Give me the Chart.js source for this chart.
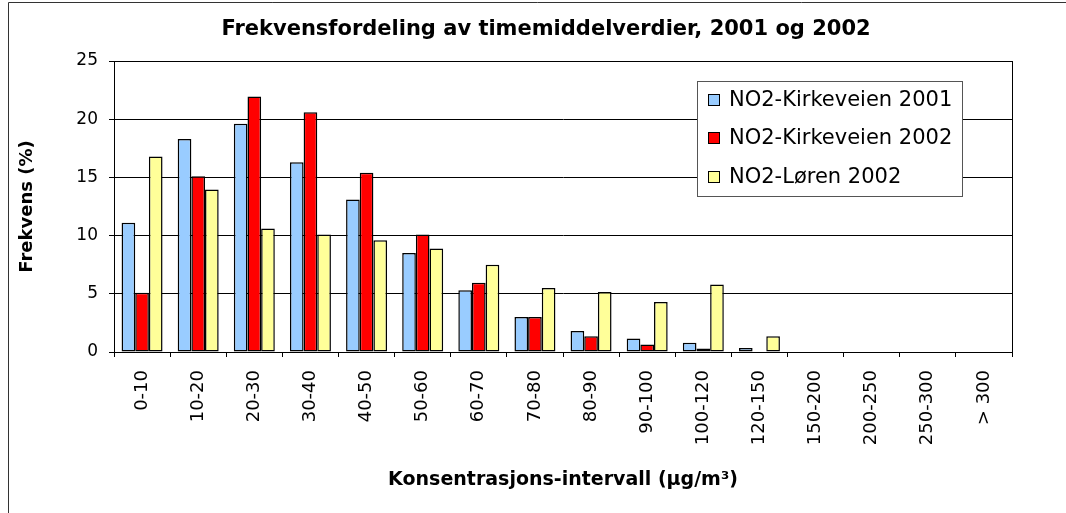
<!DOCTYPE html>
<html lang="no">
<head>
  <meta charset="UTF-8" />
  <title>Frekvensfordeling av timemiddelverdier</title>
  <script src="https://cdn.jsdelivr.net/npm/chart.js"></script>
  <style>
    body { margin: 0; background: #fff; }
    canvas { display: block; }
  </style>
</head>
<body>
  <canvas id="grafFrekvens" width="1066" height="513"></canvas>

  <script>
    // intervaller (µg/m3)
    const intervaller = ['0-10', '10-20', '20-30', '30-40', '40-50', '50-60', '60-70', '70-80',
      '80-90', '90-100', '100-120', '120-150', '150-200', '200-250', '250-300', '> 300'];

    // frekvens i prosent, lest av figuren
    const kirkeveien2001 = [11.1, 18.3, 19.6, 16.3, 13.1, 8.5, 5.3, 3.0, 1.8, 1.15, 0.8, 0.35, 0, 0, 0, 0];
    const kirkeveien2002 = [5.1, 15.1, 21.95, 20.6, 15.4, 10.1, 5.95, 3.0, 1.35, 0.65, 0.3, 0, 0, 0, 0, 0];
    const loren2002 = [16.8, 13.95, 10.6, 10.1, 9.6, 8.9, 7.5, 5.5, 5.15, 4.3, 5.8, 1.35, 0, 0, 0, 0];

    const yTicks = [0, 5, 10, 15, 20, 25];

    const tittel = 'Frekvensfordeling av timemiddelverdier, 2001 og 2002';

    // tegner ramme, tittel og forklaring slik som i Excel-figuren
    const ekstraTegning = {
      id: 'ekstraTegning',
      afterDraw(chart) {
        const ctx = chart.ctx;
        const a = chart.chartArea;
        ctx.save();

        // ytre ramme
        ctx.strokeStyle = '#333';
        ctx.lineWidth = 1;
        ctx.beginPath();
        ctx.moveTo(8.5, 513);
        ctx.lineTo(8.5, 2.5);
        ctx.lineTo(1066, 2.5);
        ctx.stroke();

        // ramme rundt plottet
        ctx.strokeStyle = '#000';
        ctx.strokeRect(Math.round(a.left) + 0.5, Math.round(a.top) + 0.5,
          Math.round(a.right - a.left), Math.round(a.bottom - a.top));

        // tittel
        ctx.fillStyle = '#000';
        ctx.font = 'bold 21px "DejaVu Sans"';
        ctx.textAlign = 'center';
        ctx.textBaseline = 'middle';
        ctx.fillText(tittel, 546, 30);

        // forklaring
        const bx = 697, by = 81, bw = 265, bh = 115;
        ctx.fillStyle = '#fff';
        ctx.fillRect(bx, by, bw, bh);
        ctx.strokeStyle = '#555';
        ctx.strokeRect(bx + 0.5, by + 0.5, bw, bh);
        ctx.font = '21px "DejaVu Sans"';
        ctx.textAlign = 'left';
        const rader = [100, 138, 177];
        chart.data.datasets.forEach((ds, i) => {
          const y = rader[i];
          ctx.fillStyle = ds.backgroundColor;
          ctx.fillRect(708, y - 6, 12, 12);
          ctx.strokeStyle = '#000';
          ctx.strokeRect(708.5, y - 5.5, 11, 11);
          ctx.fillStyle = '#000';
          ctx.fillText(ds.label, 729, y + 1);
        });

        ctx.restore();
      }
    };

    const stolpe = { borderColor: '#000', borderWidth: 1.5, borderSkipped: false };

    new Chart(document.getElementById('grafFrekvens'), {
      type: 'bar',
      data: {
        labels: intervaller,
        datasets: [
          { label: 'NO2-Kirkeveien 2001', data: kirkeveien2001, backgroundColor: '#99CCFF', ...stolpe },
          { label: 'NO2-Kirkeveien 2002', data: kirkeveien2002, backgroundColor: '#FF0000', ...stolpe },
          { label: 'NO2-Løren 2002', data: loren2002, backgroundColor: '#FFFF99', ...stolpe }
        ]
      },
      options: {
        responsive: false,
        animation: false,
        layout: { padding: { left: 10, right: 54, top: 61, bottom: 0 } },
        datasets: {
          bar: { categoryPercentage: 0.73, barPercentage: 1.0 }
        },
        plugins: {
          legend: { display: false },
          title: { display: false },
          tooltip: { enabled: false }
        },
        scales: {
          x: {
            afterFit(scale) { scale.height = 161; },
            grid: { drawOnChartArea: false, drawTicks: true, tickLength: 5, color: '#000', offset: true },
            border: { color: '#000', width: 1 },
            ticks: {
              color: '#000',
              font: { family: 'DejaVu Sans', size: 18 },
              minRotation: 90,
              maxRotation: 90,
              autoSkip: false,
              padding: 13
            },
            title: {
              display: true,
              text: 'Konsentrasjons-intervall (µg/m³)',
              color: '#000',
              font: { family: 'DejaVu Sans', size: 19, weight: 'bold' },
              padding: { top: 0, bottom: 22 }
            }
          },
          y: {
            min: 0,
            max: 25,
            afterFit(scale) { scale.width = 104; },
            afterBuildTicks(scale) { scale.ticks = yTicks.map(v => ({ value: v })); },
            grid: { color: '#000', lineWidth: 1, tickLength: 5 },
            border: { color: '#000', width: 1 },
            ticks: {
              color: '#000',
              font: { family: 'DejaVu Sans', size: 17 },
              padding: 11
            },
            title: {
              display: true,
              text: 'Frekvens (%)',
              color: '#000',
              font: { family: 'DejaVu Sans', size: 18, weight: 'bold' },
              padding: { top: 7, bottom: 0 }
            }
          }
        }
      },
      plugins: [ekstraTegning]
    });
  </script>
</body>
</html>
